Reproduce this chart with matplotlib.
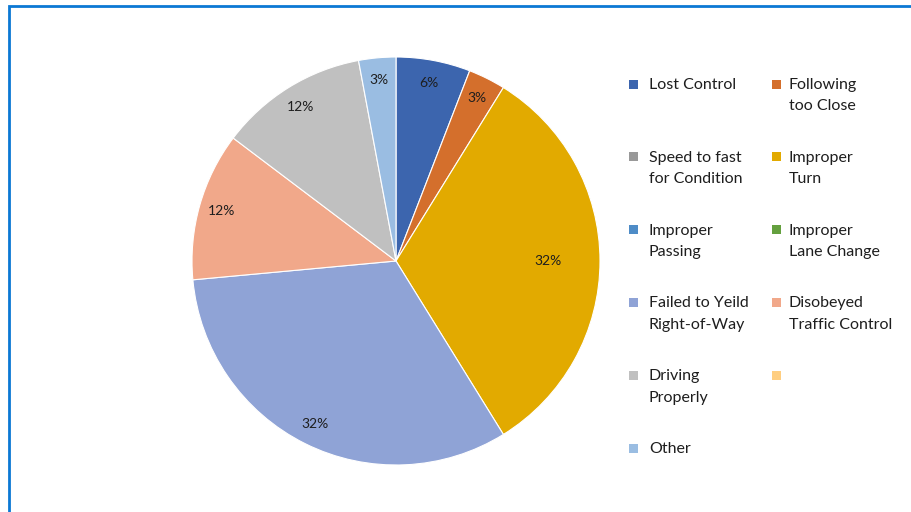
import matplotlib.pyplot as plt
from matplotlib.patches import Rectangle

# crash causes (counts) and colours, in legend order
causes = [
    "Lost Control", "Following\ntoo Close",
    "Speed to fast\nfor Condition", "Improper\nTurn",
    "Improper\nPassing", "Improper\nLane Change",
    "Failed to Yeild\nRight-of-Way", "Disobeyed\nTraffic Control",
    "Driving\nProperly", "",
    "Other",
]
counts = [2, 1, 0, 11, 0, 0, 11, 4, 4, 0, 1]
colors = [
    "#3C65AE", "#D46F2C",
    "#999999", "#E2AA00",
    "#4E8CC7", "#64A03E",
    "#8FA3D6", "#F1A88A",
    "#C0C0C0", "#FFCE80",
    "#9ABDE2",
]

# pie is drawn clockwise from 12 o'clock in this order
pie_order = [0, 1, 3, 6, 7, 8, 10]

W, H = 912, 512
fig = plt.figure(figsize=(W / 100, H / 100), dpi=100)
plt.rcParams['font.family'] = ['Lato', 'DejaVu Sans']
txt_col = "#1E1E1E"

# pie axes: centre (396, 261) px, radius 204 px
cx, cy, r = 396, 261, 204
ax = fig.add_axes([(cx - r) / W, (H - cy - r) / H, 2 * r / W, 2 * r / H])

vals = [counts[i] for i in pie_order]
cols = [colors[i] for i in pie_order]
wedges, _, autotexts = ax.pie(
    vals, colors=cols, startangle=90, counterclock=False,
    autopct=lambda p: f"{p:.0f}%", pctdistance=0.89,
    wedgeprops=dict(edgecolor="white", linewidth=0.8),
    textprops=dict(fontsize=10, color=txt_col),
)
# the big "Improper Turn" label sits further in
autotexts[2].set_position((0.745, 0.0))
ax.set_xlim(-1, 1)
ax.set_ylim(-1, 1)
ax.set_aspect("equal")
ax.axis("off")

# legend laid out in two columns
col_marker_x = [634, 777]
col_text_x = [649, 789]
row0, row_step = 84, 72.8
for i, name in enumerate(causes):
    row, col = divmod(i, 2)
    y = row0 + row * row_step
    sz = 9
    fig.patches.append(Rectangle(
        ((col_marker_x[col] - sz / 2) / W, (H - y - sz / 2) / H), sz / W, sz / H,
        transform=fig.transFigure, facecolor=colors[i], edgecolor="none"))
    fig.text(col_text_x[col] / W, (H - y + 6) / H, name, fontsize=11.5,
             color=txt_col, va="top", ha="left", linespacing=1.68)

# blue frame around the chart area
fig.patches.append(Rectangle(
    (9 / W, -0.05), 1.1, (H - 6) / H + 0.05, transform=fig.transFigure,
    facecolor="none", edgecolor="#0B78D4", linewidth=2))

fig.savefig("out.png", dpi=100)
